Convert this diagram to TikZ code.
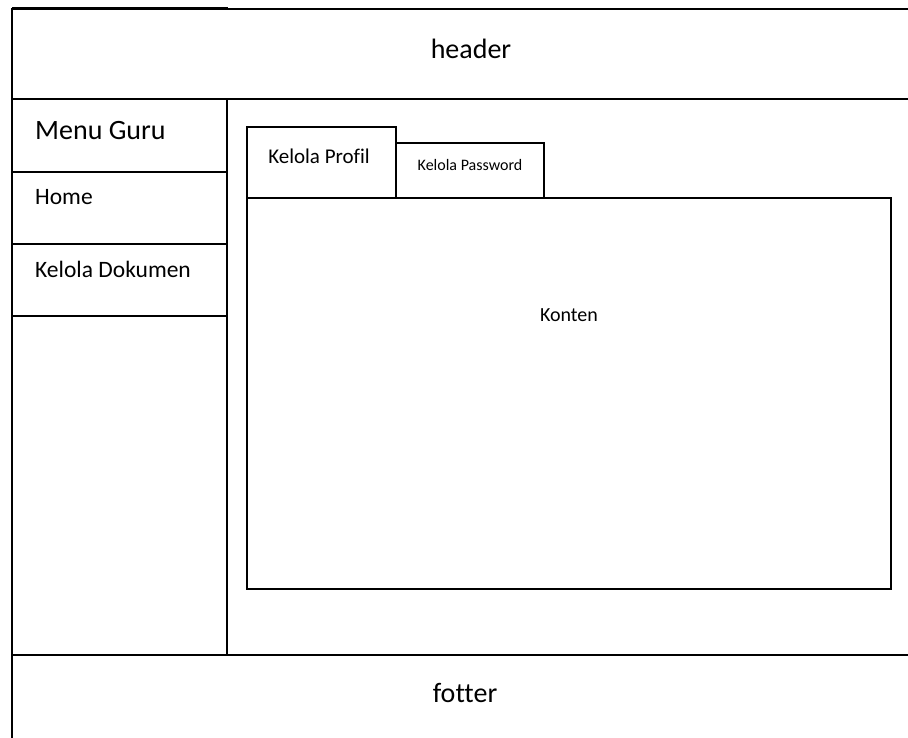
\documentclass[tikz,border=0pt]{standalone}
\usepackage{fontspec}
\setmainfont{Carlito}[Ligatures={NoCommon,NoRequired}]
\begin{document}
\begin{tikzpicture}[x=1pt,y=-1pt,
  frame/.style={line width=2pt,draw=black},
  lbl/.style={inner sep=0pt,text=black},
  big/.style={lbl,font=\fontsize{28}{32}\selectfont},
  menu/.style={lbl,font=\fontsize{23.5}{27}\selectfont,anchor=base west},
  tabtxt/.style={lbl,font=\fontsize{21}{25}\selectfont,anchor=base},
  small/.style={lbl,font=\fontsize{16}{19}\selectfont,anchor=base}]
\useasboundingbox[fill=white] (0,0) rectangle (908,738);

% page frame, header and footer rules
\draw[frame] (908,9.3) -- (12,9.3) -- (12,738);
\draw[frame] (12,7.8) -- (228,7.8);
\draw[frame] (12,99.5) -- (908,99.5);
\draw[frame] (12,654.5) -- (908,654.5);

% sidebar
\draw[frame] (227,99.5) -- (227,654.5);
\draw[frame] (12,172) -- (227,172);
\draw[frame] (12,244) -- (227,244);
\draw[frame] (12,316) -- (227,316);

% tabs and content area
\draw[frame] (247.3,198.5) -- (247.3,127.3) -- (395.7,127.3) -- (395.7,198.5);
\draw[frame] (395.7,143) -- (544,143) -- (544,198.5);
\draw[frame] (247.3,198.5) rectangle (890.5,588.5);

% texts
\node[big,anchor=base] (header) at (471,59) {header};
\node[big,anchor=base] (footer) at (465,702) {fotter};
\node[big,anchor=base west] (menuguru) at (35,140) {Menu Guru};
\node[menu] (home) at (35,205) {Home};
\node[menu] (dokumen) at (35,278) {Kelola Dokumen};
\node[tabtxt] (profil) at (319,164) {Kelola Profil};
\node[small] (password) at (470,171) {Kelola Password};
\node[lbl,font=\fontsize{20}{24}\selectfont,anchor=base] (konten) at (569,321) {Konten};
\end{tikzpicture}
\end{document}
